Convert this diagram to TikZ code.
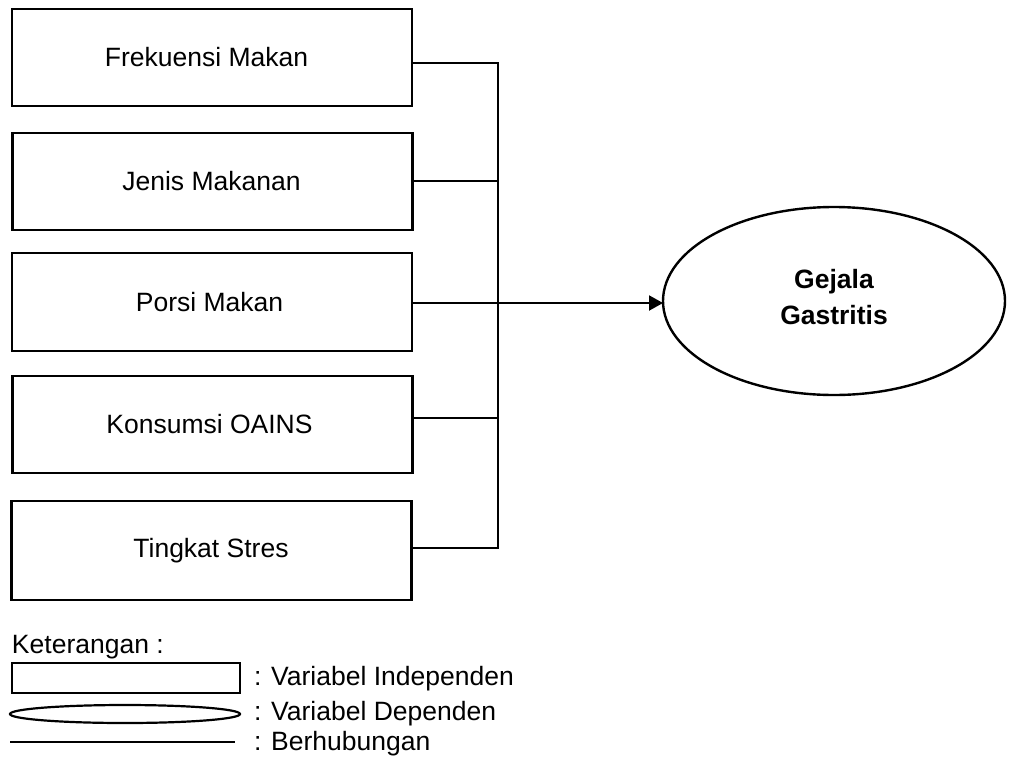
\documentclass[tikz,border=0pt]{standalone}
\usepackage{fontspec}
\setmainfont{Liberation Sans}
\usetikzlibrary{arrows.meta,shapes.geometric}
\begin{document}
\begin{tikzpicture}[x=1pt,y=-1pt,
  every node/.style={font=\fontsize{26.5}{36}\selectfont, inner sep=0pt, outer sep=0pt},
  varbox/.style={draw, line width=2.6pt, minimum width=400pt, minimum height=97pt},
  boxlabel/.style={},
  conn/.style={line width=2pt},
  depell/.style={draw, ellipse, line width=2.4pt, minimum width=342pt, minimum height=188pt},
  legtext/.style={anchor=west}
]
\useasboundingbox (0,0) rectangle (1011,763);

\node[varbox] (b1) at (212,57.5) {};
\node[varbox] (b2) at (212.5,181.5) {};
\node[varbox, minimum height=98pt] (b3) at (212,302) {};
\node[varbox] (b4) at (212.5,424.5) {};
\node[varbox, minimum height=99pt] (b5) at (211.5,550.5) {};
\node[boxlabel] (l1) at (206.5,57.5) {Frekuensi Makan};
\node[boxlabel] (l2) at (211.5,181.5) {Jenis Makanan};
\node[boxlabel] (l3) at (209.5,302) {Porsi Makan};
\node[boxlabel] (l4) at (209.5,424.5) {Konsumsi OAINS};
\node[boxlabel] (l5) at (211,550.5) {Tingkat Stres};

\node[depell] (g) at (834,301) {};
\node[align=center, font=\fontsize{26.5}{36}\selectfont\bfseries] (gl) at (834,297) {Gejala\\Gastritis};

\coordinate (j1) at (498,63);
\coordinate (j2) at (498,181);
\coordinate (j3) at (498,303);
\coordinate (j4) at (498,418);
\coordinate (j5) at (498,548);

\draw[conn] (b1.east |- j1) -- (j1) -- (j5) -- (b5.east |- j5);
\draw[conn] (b2.east |- j2) -- (j2);
\draw[conn] (b4.east |- j4) -- (j4);
\draw[conn, -{Triangle[length=14pt,width=15pt]}] (b3.east |- j3) -- (g.west |- j3);

% legend
\node[anchor=west] (ket) at (12,647) {Keterangan :};
\node[draw, line width=2.4pt, minimum width=228pt, minimum height=30pt] (lrect) at (126,678) {};
\node[draw, ellipse, line width=2.2pt, minimum width=230pt, minimum height=18pt] (lell) at (125,714) {};
\coordinate (la) at (10,742);
\coordinate (lb) at (235,742);
\draw[conn] (la) -- (lb);
\node[legtext] (t1) at (254,679) {: Variabel Independen};
\node[legtext] (t2) at (254,714) {: Variabel Dependen};
\node[legtext] (t3) at (254,744) {: Berhubungan};
\end{tikzpicture}
\end{document}
